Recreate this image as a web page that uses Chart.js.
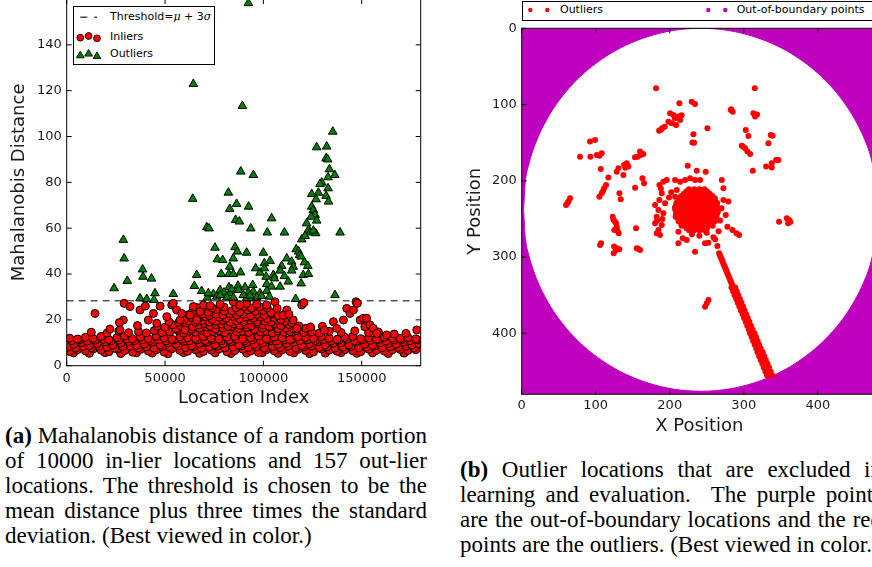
<!DOCTYPE html>
<html>
<head>
<meta charset="utf-8">
<title>Mahalanobis distance and outlier locations</title>
<script src="https://cdn.jsdelivr.net/npm/chart.js@4.4.1/dist/chart.umd.min.js"></script>
<style>
  html, body { margin: 0; padding: 0; background: #fff; }
  body { position: relative; width: 872px; height: 567px; overflow: hidden; font-family: "DejaVu Sans", sans-serif; }
  canvas { position: absolute; }
  #leftChart { left: 0; top: -20px; }
  #rightChart { left: 460px; top: 0; }
  .legend { position: absolute; background: #fff; border: 1px solid #000; box-sizing: border-box; font-size: 11px; color: #000; }
  .legend svg { position: absolute; left: 0; top: 0; overflow: visible; }
  .legend > span { position: absolute; white-space: nowrap; line-height: 14px; }
  .math { font-family: "DejaVu Serif", serif; font-style: italic; }
  .caption { position: absolute; width: 422px; font-family: "Liberation Serif", "Times New Roman", serif; font-size: 23px; line-height: 25.1px; color: #000; }
  .caption div { white-space: nowrap; text-align: justify; text-align-last: justify; }
  .caption div.last { text-align-last: left; }
  #capA { left: 5px; top: 422.7px; }
  #capB { left: 460px; top: 457.2px; }
</style>
</head>
<body>
<canvas id="leftChart" width="440" height="430"></canvas>
<canvas id="rightChart" width="440" height="440"></canvas>

<div class="legend" style="left:72.7px;top:6px;width:142.3px;height:59px">
  <svg width="140" height="57">
    <line x1="6.3" y1="10.3" x2="23" y2="10.3" stroke="#444" stroke-width="1.5" stroke-dasharray="7 7"/>
    <circle cx="6.3" cy="30.7" r="3.4" fill="#ff0000" stroke="#000" stroke-width="0.9"/>
    <circle cx="14.6" cy="29" r="3.4" fill="#ff0000" stroke="#000" stroke-width="0.9"/>
    <circle cx="23" cy="31.3" r="3.4" fill="#ff0000" stroke="#000" stroke-width="0.9"/>
    <polygon points="6.3,44.2 10.2,50.8 2.4,50.8" fill="#008000" stroke="#000" stroke-width="0.9"/>
    <polygon points="14.6,42.5 18.5,49.1 10.7,49.1" fill="#008000" stroke="#000" stroke-width="0.9"/>
    <polygon points="23,44.9 26.9,51.5 19.1,51.5" fill="#008000" stroke="#000" stroke-width="0.9"/>
  </svg>
  <span style="left:36.3px;top:3.3px">Threshold=<span class="math">μ</span> + 3<span class="math">σ</span></span>
  <span style="left:36.3px;top:22.7px">Inliers</span>
  <span style="left:36.3px;top:40.3px">Outliers</span>
</div>

<div class="legend" style="left:521.7px;top:1px;width:420px;height:20px">
  <svg width="400" height="18">
    <circle cx="7.3" cy="8" r="2.2" fill="#ff0000"/>
    <circle cx="24.3" cy="8" r="2.2" fill="#ff0000"/>
    <circle cx="185.3" cy="8" r="2.2" fill="#bf00bf"/>
    <circle cx="202.3" cy="8" r="2.2" fill="#bf00bf"/>
  </svg>
  <span style="left:37.3px;top:1px">Outliers</span>
  <span style="left:214px;top:1px">Out-of-boundary points</span>
</div>

<div class="caption" id="capA">
  <div><b>(a)</b> Mahalanobis distance of a random portion</div>
  <div>of 10000 in-lier locations and 157 out-lier</div>
  <div>locations. The threshold is chosen to be the</div>
  <div>mean distance plus three times the standard</div>
  <div class="last">deviation. (Best viewed in color.)</div>
</div>
<div class="caption" id="capB">
  <div><b>(b)</b> Outlier locations that are excluded in</div>
  <div>learning and evaluation.&nbsp; The purple points</div>
  <div>are the out-of-boundary locations and the red</div>
  <div class="last">points are the outliers. (Best viewed in color.)</div>
</div>

<script>
/* ── Colours & fonts ── */
const RED = "#ff0000";
const GREEN = "#008000";
const MAGENTA = "#bf00bf";
const INK = "#1a1a1a";
const TICK_FONT = { family: "DejaVu Sans", size: 13 };
const TITLE_FONT = { family: "DejaVu Sans", size: 18 };

/* ── (a) Mahalanobis distance ── */
const locationTicks = [0, 50000, 100000, 150000];
const distanceTicks = [0, 20, 40, 60, 80, 100, 120, 140];
const thresholdDistance = 28.3;

const inliers = [
  // bottom edge
  [3500,5.6],[11500,5.4],[19500,5.7],[27500,5.3],[35500,5.6],[43500,5.5],[51500,5.2],[59500,5.7],[67500,5.4],[75500,5.6],
  [83500,5.3],[91500,5.5],[99500,5.7],[107500,5.4],[115500,5.6],[123500,5.3],[131500,5.5],[139500,5.7],[147500,5.4],[155500,5.6],
  [163500,5.3],[171500,5.5],
  // lower band
  [1500,6.2],[5500,7.0],[9500,6.5],[13500,7.3],[17500,6.8],[21500,6.1],[25500,7.2],[29500,6.6],[33500,5.9],[37500,7.1],
  [41500,6.4],[45500,6.9],[49500,6.0],[53500,7.4],[57500,6.7],[61500,6.3],[65500,7.0],[69500,6.2],[73500,6.8],[77500,7.3],
  [81500,6.1],[85500,6.6],[89500,7.2],[93500,6.4],[97500,5.8],[101500,7.0],[105500,6.5],[109500,6.9],[113500,6.2],[117500,7.1],
  [121500,6.6],[125500,6.0],[129500,7.3],[133500,6.8],[137500,6.3],[141500,7.0],[145500,6.5],[149500,6.1],[153500,7.2],[157500,6.7],
  [161500,6.4],[165500,6.9],[169500,7.1],[173500,6.6],[177500,7.0],
  // row ~8
  [500,8.1],[4500,7.7],[8500,8.4],[12500,7.9],[16500,8.6],[20500,8.0],[24500,7.6],[28500,8.3],[32500,8.5],[36500,7.8],
  [40500,8.2],[44500,7.7],[48500,8.4],[52500,8.0],[56500,8.6],[60500,7.9],[64500,8.3],[68500,7.6],[72500,8.1],[76500,8.5],
  [80500,7.8],[84500,8.2],[88500,8.6],[92500,7.9],[96500,8.3],[100500,7.7],[104500,8.4],[108500,8.0],[112500,8.5],[116500,7.8],
  [120500,8.2],[124500,8.6],[128500,7.9],[132500,8.3],[136500,7.7],[140500,8.1],[144500,8.4],[148500,7.8],[152500,8.2],[156500,8.6],
  [160500,7.9],[164500,8.3],[168500,8.0],[172500,8.5],[176500,7.8],
  // middle band
  [3500,9.3],[7500,10.1],[11500,8.8],[15500,9.7],[19500,10.4],[23500,9.0],[27500,9.9],[31500,10.6],[35500,8.9],[39500,9.5],
  [43500,10.2],[47500,9.1],[51500,10.0],[55500,9.4],[59500,10.7],[63500,8.7],[67500,9.8],[71500,10.3],[75500,9.2],[79500,9.6],
  [83500,10.5],[87500,9.0],[91500,10.1],[95500,9.4],[99500,9.9],[103500,10.8],[107500,9.3],[111500,9.7],[115500,10.2],[119500,8.8],
  [123500,9.6],[127500,10.4],[131500,9.1],[135500,9.8],[139500,10.0],[143500,9.2],[147500,10.6],[151500,9.5],[155500,8.9],[159500,10.1],
  [163500,9.7],[167500,9.3],[171500,10.3],[175500,9.0],[179000,9.6],
  // row ~11
  [2500,10.9],[6500,11.3],[10500,10.7],[14500,11.1],[18500,11.5],[22500,10.8],[26500,11.2],[30500,11.6],[34500,10.9],[38500,11.3],
  [42500,11.0],[46500,11.4],[50500,10.8],[54500,11.2],[58500,11.6],[62500,10.9],[66500,11.3],[70500,11.0],[74500,11.5],[78500,10.8],
  [82500,11.2],[86500,11.6],[90500,10.9],[94500,11.3],[98500,11.0],[102500,11.4],[106500,10.8],[110500,11.2],[114500,11.5],[118500,10.9],
  [122500,11.3],[126500,11.0],[130500,11.4],[134500,10.8],[138500,11.2],[142500,11.6],[146500,10.9],[150500,11.3],[154500,11.0],[158500,11.4],
  [162500,10.8],[166500,11.2],[170500,11.5],[174500,10.9],[178500,11.3],
  // upper band
  [1500,12.0],[5500,11.6],[9500,12.4],[13500,11.9],[17500,12.8],[21500,11.4],[25500,12.2],[29500,13.0],[33500,11.7],[37500,12.5],
  [41500,11.8],[45500,12.9],[49500,12.1],[53500,11.5],[57500,12.6],[61500,12.3],[65500,11.9],[69500,12.7],[73500,12.0],[77500,11.6],
  [81500,12.4],[85500,12.8],[89500,11.7],[93500,12.2],[97500,12.9],[101500,11.8],[105500,12.5],[109500,12.1],[113500,11.4],[117500,12.6],
  [121500,12.3],[125500,11.9],[129500,12.7],[133500,12.0],[137500,11.5],[141500,12.4],[145500,12.8],[149500,11.8],[153500,12.2],[157500,11.6],
  [161500,12.5],[165500,12.0],[169500,11.9],[173500,12.3],[177500,11.7],
  // row ~14.5
  [12500,14.6],[20500,14.2],[26500,15.1],[31500,14.4],[36500,14.9],[40500,14.3],[44500,15.3],[48500,14.5],[52500,14.8],[56500,15.4],
  [59500,14.2],[62500,15.0],[65500,14.6],[68500,15.5],[71500,14.3],[74500,14.9],[77500,15.2],[80500,14.4],[83500,15.6],[86500,14.7],
  [89500,15.1],[92500,14.5],[95500,15.4],[98500,14.8],[101500,15.0],[104500,14.3],[107500,15.2],[110500,14.6],[113500,14.9],[116500,15.3],
  [120500,14.4],[124500,14.8],[128500,14.2],[133500,15.0],[139500,14.5],[146500,15.2],[153500,14.4],[158500,14.7],[166500,13.8],[172500,14.1],
  // row ~16
  [55500,16.1],[59500,16.6],[63500,15.9],[67500,16.4],[71500,16.8],[75500,16.0],[79500,16.5],[83500,16.9],[87500,16.2],[91500,16.7],
  [95500,15.8],[99500,16.4],[103500,16.9],[107500,16.1],[111500,16.5],[115500,16.0],[121500,16.3],
  // row ~17.5
  [46000,17.2],[50000,16.8],[54000,17.9],[58000,17.4],[61000,18.2],[64000,17.0],[67000,17.8],[70000,18.4],[73000,17.3],[76000,17.9],
  [79000,18.1],[82000,17.2],[85000,18.3],[88000,17.6],[91000,18.0],[94000,17.4],[97000,18.5],[100000,17.7],[103000,17.1],[106000,18.2],
  [109000,17.5],[113000,17.9],[118000,17.3],[124000,16.9],[130000,17.2],
  // row ~19
  [52000,19.2],[57000,18.9],[62000,19.5],[65500,19.0],[69000,19.7],[72500,19.1],[76000,19.4],[79500,19.8],[83000,19.0],[86500,19.6],
  [90000,19.3],[93500,19.9],[97000,19.2],[100500,19.5],[104000,19.0],[107500,19.7],[111000,19.3],[114500,18.8],
  // row ~20.5
  [60000,20.3],[63500,21.0],[67000,20.6],[70500,21.4],[74000,20.2],[77500,21.1],[81000,20.7],[84500,21.5],[88000,20.4],[91500,21.2],
  [95000,20.8],[98500,21.3],[102000,20.5],[105500,21.0],[109000,20.1],
  // row ~22
  [62000,22.3],[65500,22.0],[69000,22.6],[72500,21.9],[76000,22.4],[79500,22.1],[83000,22.7],[86500,22.2],[90000,22.5],[93500,21.8],
  [97000,22.4],[100500,22.0],[104000,22.6],[107500,21.9],
  // row ~23.5
  [64000,23.6],[68000,24.2],[72000,23.3],[76000,24.5],[80000,23.8],[84000,24.0],[88000,23.4],[92000,24.3],[96000,23.7],[100000,24.1],[104000,23.2],
  // row ~25.5
  [66000,25.4],[70000,25.9],[74000,25.2],[80000,25.6],[86000,25.3],[90000,25.8],[94000,25.1],[98000,25.7],[102000,25.3],
  // scattered
  [14400,22.8],[29200,27.2],[28800,19.9],[26800,18.8],[27100,15.6],[32200,25.8],[37300,24.3],[40000,26.0],[41500,19.9],[44100,22.8],
  [45800,18.5],[47500,26.0],[50900,21.4],[53400,26.5],[54200,27.2],[55900,24.3],[57600,19.9],[60200,15.6],[62700,22.1],[64400,25.8],
  [66100,19.9],[67800,23.6],[69500,26.5],[84700,27.9],[91500,27.2],[96600,26.9],[101700,26.5],[105900,27.9],[111900,24.3],[115200,19.9],
  [119500,26.5],[120600,27.5],[117000,16.3],[135600,19.2],[137300,16.3],[140700,19.9],[142400,25.0],[144100,22.8],[145800,24.3],[147100,27.9],
  [147800,27.2],[149200,19.9],[150800,20.7],[152500,20.7],[151600,17.0],[154200,17.8],[155900,16.3],[157600,14.1],[162700,13.4],[178000,15.6],
  [73000,26.2],[78000,26.8],[88000,26.4],[110000,22.0],[113000,22.5],[107000,25.0],[58500,22.8],[36000,17.5],[22000,16.0],[131000,15.5]
];

const outliers = [
  [92380,158.2],[64400,122.9],[89300,113.3],[135300,102.1],[127100,95.3],[132200,95.6],[131900,90.5],[132700,90.0],[133600,85.7],[136300,83.2],
  [88500,84.7],[94900,83.2],[132900,82.2],[129700,79.9],[128800,79.3],[132900,77.4],[124600,74.9],[128000,75.5],[131900,74.1],[133100,71.6],
  [126800,72.6],[64100,72.8],[82200,75.5],[86400,70.6],[82900,68.4],[92500,69.4],[124600,69.4],[125400,67.9],[126300,65.8],[124300,65.0],
  [104200,64.3],[85900,63.6],[87800,62.9],[122000,62.1],[127100,63.3],[71200,60.4],[72400,59.9],[93600,59.9],[102000,58.1],[110700,58.1],
  [139000,58.1],[122900,59.2],[123800,58.1],[126600,57.8],[125400,58.9],[119500,55.1],[121200,56.6],[28800,54.9],[85600,51.7],[75400,51.5],
  [116700,50.8],[117900,49.8],[100000,49.3],[91500,49.3],[86800,49.8],[118400,48.3],[119200,47.6],[29200,46.8],[76600,46.4],[79300,46.1],
  [84700,46.8],[111900,46.8],[103400,45.7],[114400,45.4],[100500,44.7],[120900,45.1],[82900,43.2],[109300,43.5],[115200,43.2],[122600,43.5],
  [96100,42.5],[38600,42.0],[43100,38.0],[38800,38.8],[108500,41.5],[114400,41.5],[98300,40.6],[100500,42.5],[78600,40.0],[82500,40.0],
  [84700,40.0],[88400,40.7],[66100,39.6],[101400,38.8],[105100,39.6],[105600,38.1],[110700,39.1],[120300,39.6],[122900,40.0],[112700,36.7],
  [30800,37.0],[101700,35.6],[94600,35.2],[24100,33.8],[64900,34.8],[82500,34.2],[87100,34.9],[104200,34.5],[108500,34.5],[90700,34.2],
  [119200,35.9],[44900,31.6],[54200,31.3],[68600,32.6],[74600,31.3],[78000,33.0],[80000,31.9],[83100,31.6],[87300,33.0],[92400,31.9],
  [94900,32.3],[98300,31.6],[101700,32.6],[37300,29.4],[40700,29.1],[44400,28.7],[71500,29.7],[76300,30.1],[81400,29.8],[84800,29.7],
  [91500,29.4],[94100,29.4],[96600,29.8],[103100,30.1],[116400,29.1],[136400,30.8],[72000,31.6],[83900,33.3],[78000,30.8],[89800,30.8],
  [93200,30.6],[99100,30.4]
];

/* ── (b) Outlier locations ── */
const positionTicks = [0, 100, 200, 300, 400];

// edge of the valid (white) disc
const boundaryUpper = [
  [0,238],[2,238],[5,200.5],[10,177.1],[20,147.6],[35,117.6],[50,95.2],[70,72],[90,53.8],[115,36.1],[140,22.6],[170,11],
  [205,2.8],[242,0],[280,3],[315,11.3],[345,23],[370,36.7],[395,54.6],[415,73],[435,96.5],[450,119.3],[462,142.9],[472,170],[480,207.3]
];
const boundaryLower = [
  [0,238],[2,238],[5,275.5],[10,298.9],[20,328.4],[35,358.4],[50,380.8],[70,404],[90,422.2],[115,439.9],[140,453.4],[170,465],
  [205,473.2],[242,476],[280,473],[315,464.7],[345,453],[370,439.3],[395,421.4],[415,403],[435,379.5],[450,356.7],[462,333.1],[472,306],[480,268.7]
];

const scatteredOutliers = [
  [181.5,78.7],[314.9,78.7],[229.7,96.2],[234.2,99.2],[213,98.4],[282.4,107.1],[285.1,109.3],[283,106],[313,111.5],[315.3,115.8],
  [318,113],[200.5,111.5],[205,113.7],[211.7,115.8],[214,120.2],[198.2,122.4],[202.7,124.6],[208.6,126.8],[216,114],[207,118],
  [189.6,131.1],[193.2,129],[185.6,134.2],[188,133],[250.9,131.1],[232,139],[302.7,133.3],[306.3,141.2],[336.5,139.9],[339,141],
  [92.3,148.6],[99.1,146.4],[230.6,149.9],[233,150],[333.3,150.8],[297.3,153.9],[301.8,157.4],[304.9,161.7],[308.6,164.8],[299,155],
  [78.8,168.3],[92.8,168.3],[101.4,166.1],[108.1,163.9],[105,167],[159.9,161.7],[164.4,164.8],[156.8,168.3],[161,166],[153,169],
  [330.2,181.4],[337.8,177],[343.7,172.7],[346.8,172.7],[337.8,182.5],[312.2,186.7],[106.8,184.5],[128.4,188],[130.6,183.6],[138.3,179.2],
  [141.9,177],[144.1,181.4],[137.4,192.3],[140,183],[224.3,180.1],[236.5,186.7],[248.6,188],[117.1,195.8],[163.1,196.7],[165.3,203.3],
  [153.2,209],[111.3,209.8],[114,205.5],[108.1,216.4],[104.9,220.8],[110,213],[63.1,227.3],[65.3,222.9],[59.9,231.7],[62,229],
  [132,216.4],[133.8,224.3],[154.5,262.3],[123,247],[126.1,253.6],[128.4,260.1],[125.2,264.5],[131.1,268.9],[127.5,255.8],[124,251],
  [129,265],[107.2,282],[105.9,284.2],[124.8,286.3],[128.4,288.5],[131.9,289.8],[124.3,295.1],[127,291],[155.4,288.5],[159.9,290.7],
  [157,289],[191.4,201.1],[195.9,198.9],[186,205.5],[189.2,216.4],[186,225.1],[180.2,231.7],[184.7,238.3],[182.4,247],[180.2,255.8],
  [184.7,264.5],[189.2,258],[186.9,271],[182.4,268.9],[191.4,242.6],[193.7,229.5],[188,210],[183,252],[190,250],[207.2,198.9],
  [214,201.1],[220.7,198.9],[227.5,196.7],[234.2,198.9],[241,198.9],[209.5,212],[207.2,220.8],[214,225.1],[202,215],[199,222],
  [272.5,225.1],[279.3,227.3],[275.7,244.8],[277.9,260.1],[272.5,209.8],[270.3,198.9],[270,236],[268,252],[266,266],[211.7,266.7],
  [217.6,275.4],[223,277.6],[211.7,282],[234.2,292.9],[247.7,282],[252.3,281.1],[259,274.1],[261.3,276.7],[284.7,264.5],[290.1,268.9],
  [293.7,271],[240,272],[230,270],[250,268],[347.7,253.6],[358.1,249.2],[359.9,255.8],[361.3,251.4],[363,254],[264.4,285.4],
  [250,360.7],[252.3,356.3],[247.7,365.1]
];

// dense blob around (236, 238)
const coreOutliers = [
  [226,211],[233,211],[240,211],[247,211],
  [222.5,214],[229.5,214],[236.5,214],[243.5,214],[250.5,214],
  [219,217],[226,217],[233,217],[240,217],[247,217],[254,217],
  [215.5,220],[222.5,220],[229.5,220],[236.5,220],[243.5,220],[250.5,220],[257.5,220],
  [213,223],[220,223],[227,223],[234,223],[241,223],[248,223],[255,223],[261,223],
  [211.5,226],[218.5,226],[225.5,226],[232.5,226],[239.5,226],[246.5,226],[253.5,226],[260.5,226],
  [209,229],[216,229],[223,229],[230,229],[237,229],[244,229],[251,229],[258,229],[264,229],
  [208.5,232],[215.5,232],[222.5,232],[229.5,232],[236.5,232],[243.5,232],[250.5,232],[257.5,232],[263.5,232],
  [207,235],[214,235],[221,235],[228,235],[235,235],[242,235],[249,235],[256,235],[263,235],
  [207.5,238],[214.5,238],[221.5,238],[228.5,238],[235.5,238],[242.5,238],[249.5,238],[256.5,238],[263.5,238],
  [209,241],[216,241],[223,241],[230,241],[237,241],[244,241],[251,241],[258,241],[265,241],
  [208.5,244],[215.5,244],[222.5,244],[229.5,244],[236.5,244],[243.5,244],[250.5,244],[257.5,244],[263.5,244],
  [208,247],[215,247],[222,247],[229,247],[236,247],[243,247],[250,247],[257,247],[263,247],
  [211.5,250],[218.5,250],[225.5,250],[232.5,250],[239.5,250],[246.5,250],[253.5,250],[260.5,250],
  [212,253],[219,253],[226,253],[233,253],[240,253],[247,253],[254,253],[261,253],
  [215.5,256],[222.5,256],[229.5,256],[236.5,256],[243.5,256],[250.5,256],[257.5,256],
  [216,259],[223,259],[230,259],[237,259],[244,259],[251,259],[258,259],
  [222.5,262],[229.5,262],[236.5,262],[243.5,262],[250.5,262],
  [226,265],[233,265],[240,265],[247,265]
];

// streak running down to the lower-right edge
const streakOutliers = [
  [266.7,295],[267.8,297.5],[268.8,300],[269.9,302.5],[271.0,305],[272.0,307.5],[273.1,310],[274.1,312.5],[275.2,315],[276.3,317.5],
  [277.3,320],[278.4,322.5],[279.5,325],[280.5,327.5],[281.6,330],[282.7,332.5],[283.7,335],[284.8,337.5],[285.9,340],[286.9,342.5],
  [288.0,345],[289.0,347.5],[290.1,350],[291.2,352.5],[292.3,355],[293.3,357.5],[294.4,360],[295.4,362.5],[296.5,365],[297.6,367.5],
  [298.6,370],[299.7,372.5],[300.8,375],[301.8,377.5],[302.9,380],[304.0,382.5],[305.0,385],[306.1,387.5],[307.2,390],[308.2,392.5],
  [309.3,395],[310.3,397.5],[311.4,400],[312.5,402.5],[313.6,405],[314.6,407.5],[315.7,410],[316.7,412.5],[317.8,415],[318.9,417.5],
  [319.9,420],[321.0,422.5],[322.1,425],[323.1,427.5],[324.2,430],[325.3,432.5],[326.3,435],[327.4,437.5],[328.5,440],[329.5,442.5],
  [330.6,445],[331.6,447.5],[332.7,450],[333.8,452.5],[334.9,455],
  [283.4,340],[288.4,340],[285.5,345],[290.5,345],[287.6,350],[292.6,350],[289.8,355],[294.8,355],[291.9,360],[296.9,360],
  [294.0,365],[299.0,365],[296.1,370],[301.1,370],[298.3,375],[303.3,375],[300.4,380],[305.4,380],[302.5,385],[307.5,385],
  [304.7,390],[309.7,390],[306.8,395],[311.8,395],[308.4,400],[314.4,400],[310.6,405],[316.6,405],[312.7,410],[318.7,410],
  [314.8,415],[320.8,415],[316.9,420],[322.9,420],[318.6,425],[325.6,425],[320.7,430],[327.7,430],[322.8,435],[329.8,435],
  [325.0,440],[332.0,440],[327.1,445],[334.1,445],[329.2,450],[336.2,450],[331.4,455],[338.4,455]
];

/* ── Matplotlib-like frame with inward ticks ── */
const mplFrame = {
  id: "mplFrame",
  afterDatasetsDraw(chart) {
    const { ctx, chartArea: a, scales } = chart;
    ctx.save();
    ctx.strokeStyle = "#000";
    ctx.lineWidth = 1;
    ctx.beginPath();
    scales.x.ticks.forEach((t) => {
      const p = scales.x.getPixelForValue(t.value);
      ctx.moveTo(p, a.bottom);
      ctx.lineTo(p, a.bottom - 5);
      ctx.moveTo(p, a.top);
      ctx.lineTo(p, a.top + 5);
    });
    scales.y.ticks.forEach((t) => {
      const p = scales.y.getPixelForValue(t.value);
      ctx.moveTo(a.left, p);
      ctx.lineTo(a.left + 5, p);
      ctx.moveTo(a.right, p);
      ctx.lineTo(a.right - 5, p);
    });
    ctx.stroke();
    ctx.strokeRect(a.left, a.top, a.right - a.left, a.bottom - a.top);
    ctx.restore();
  },
};

function axis(opts) {
  return {
    type: "linear",
    min: opts.min,
    max: opts.max,
    reverse: !!opts.reverse,
    grid: { display: false, drawTicks: false },
    border: { display: false },
    ticks: {
      font: TICK_FONT,
      color: INK,
      padding: opts.tickPad,
      autoSkip: false,
      maxRotation: 0,
      callback: (v) => String(v),
    },
    title: {
      display: true,
      text: opts.title,
      font: TITLE_FONT,
      color: INK,
      padding: opts.titlePad,
    },
    afterBuildTicks: (s) => {
      s.ticks = opts.ticks.map((v) => ({ value: v }));
    },
    afterFit: opts.fit,
  };
}

const baseOptions = {
  responsive: false,
  animation: false,
  events: [],
  plugins: { legend: { display: false }, tooltip: { enabled: false } },
};

/* ── (a) chart ── */
new Chart(document.getElementById("leftChart"), {
  type: "scatter",
  data: {
    datasets: [
      {
        label: "Outliers",
        data: outliers,
        pointStyle: "triangle",
        pointRadius: 5,
        backgroundColor: GREEN,
        borderColor: "#000",
        borderWidth: 1,
        order: 0,
        clip: 0,
      },
      {
        label: "Inliers",
        data: inliers,
        pointRadius: 4,
        backgroundColor: RED,
        borderColor: "#000",
        borderWidth: 1,
        order: 1,
        clip: 0,
      },
      {
        label: "Threshold",
        data: [[0, thresholdDistance], [180000, thresholdDistance]],
        showLine: true,
        borderColor: "#555",
        borderWidth: 1.5,
        borderDash: [7, 5],
        pointRadius: 0,
        order: 2,
        clip: 0,
      },
    ],
  },
  options: {
    ...baseOptions,
    layout: { padding: { left: 0, top: 19, right: 19.3, bottom: 0 } },
    scales: {
      x: axis({
        min: 0, max: 180000, ticks: locationTicks, tickPad: 5,
        title: "Location Index", titlePad: { top: 0, bottom: 1.2 },
        fit: (s) => { s.height = 44.3; },
      }),
      y: axis({
        min: 0, max: 160, ticks: distanceTicks, tickPad: 5,
        title: "Mahalanobis Distance", titlePad: { top: 8.7, bottom: 0 },
        fit: (s) => { s.width = 66.7; },
      }),
    },
  },
  plugins: [mplFrame],
});

/* ── (b) chart ── */
new Chart(document.getElementById("rightChart"), {
  type: "scatter",
  data: {
    datasets: [
      {
        label: "Outliers",
        data: [...scatteredOutliers, ...coreOutliers, ...streakOutliers],
        pointRadius: 3,
        backgroundColor: RED,
        borderWidth: 0,
        order: 0,
        clip: 0,
      },
      {
        label: "Out-of-boundary points",
        data: boundaryUpper,
        showLine: true,
        cubicInterpolationMode: "monotone",
        pointRadius: 0,
        borderColor: MAGENTA,
        borderWidth: 1,
        backgroundColor: MAGENTA,
        fill: { value: 0 },
        order: 1,
        clip: 0,
      },
      {
        label: "Out-of-boundary points (lower)",
        data: boundaryLower,
        showLine: true,
        cubicInterpolationMode: "monotone",
        pointRadius: 0,
        borderColor: MAGENTA,
        borderWidth: 1,
        backgroundColor: MAGENTA,
        fill: { value: 480 },
        order: 1,
        clip: 0,
      },
    ],
  },
  options: {
    ...baseOptions,
    layout: { padding: { left: 0, top: 28.3, right: 23, bottom: 0 } },
    scales: {
      x: axis({
        min: 0, max: 480, ticks: positionTicks, tickPad: 3.5,
        title: "X Position", titlePad: { top: 0, bottom: 3.2 },
        fit: (s) => { s.height = 45.7; },
      }),
      y: axis({
        min: 0, max: 480, reverse: true, ticks: positionTicks, tickPad: 5,
        title: "Y Position", titlePad: { top: 4.2, bottom: 0 },
        fit: (s) => { s.width = 61.7; },
      }),
    },
  },
  plugins: [mplFrame],
});
</script>
</body>
</html>
